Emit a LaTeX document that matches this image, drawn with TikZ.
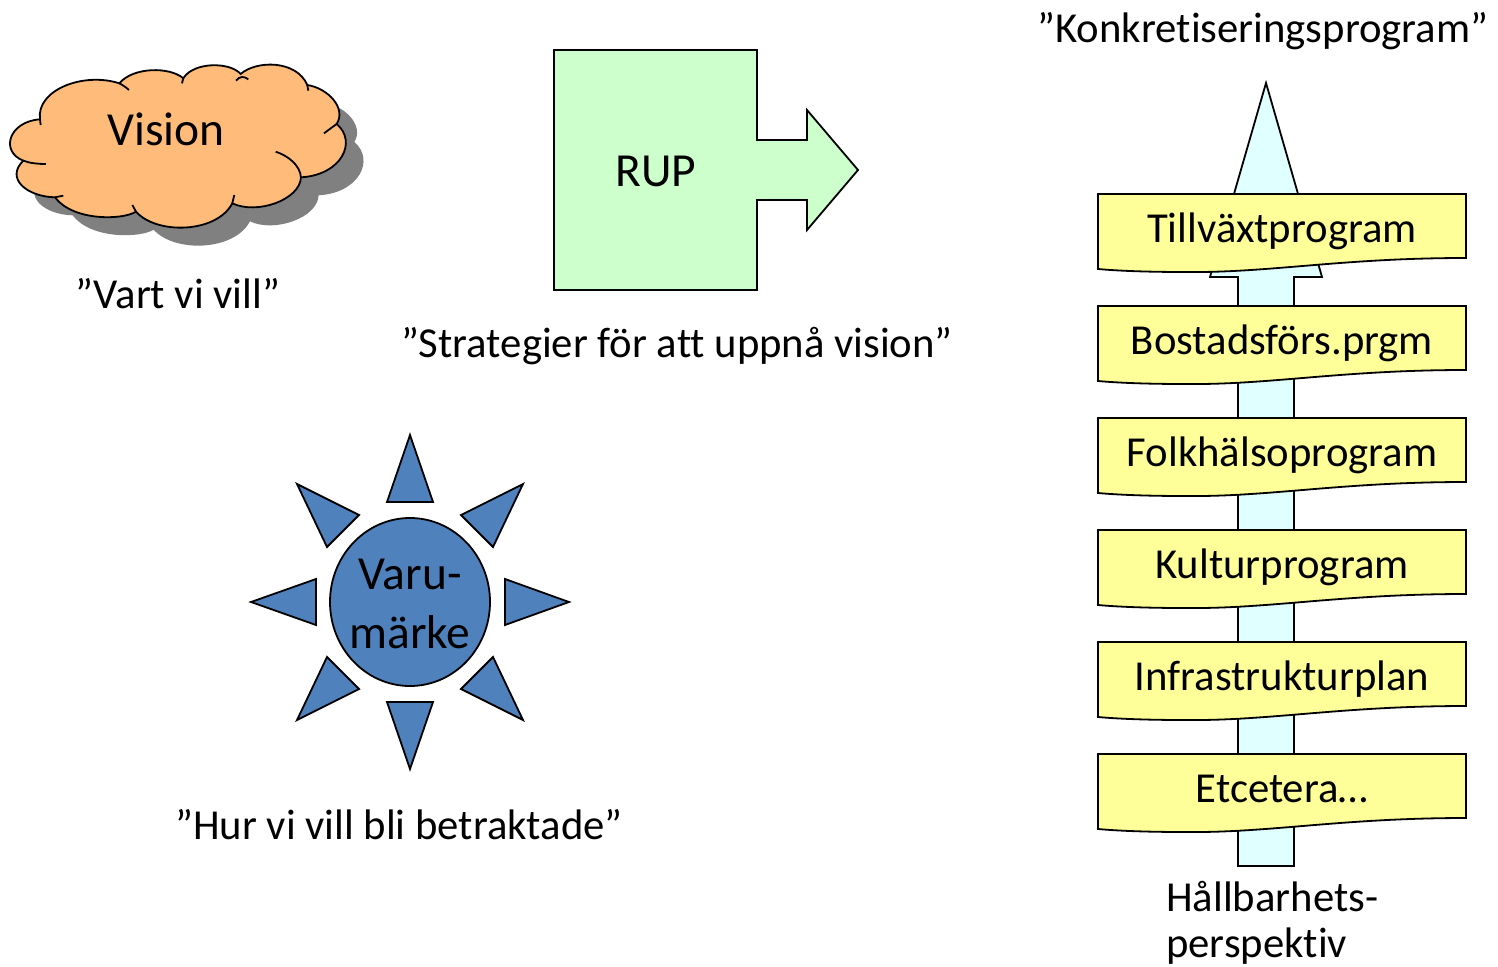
\documentclass[tikz,border=0pt]{standalone}
\usepackage{fontspec}
\setmainfont[Ligatures=NoCommon]{Carlito}
\definecolor{cloudfill}{HTML}{FFBB7A}
\definecolor{cloudshadow}{HTML}{808080}
\definecolor{rupfill}{HTML}{CCFFCC}
\definecolor{sunfill}{HTML}{4F81BD}
\definecolor{arrowfill}{HTML}{E0FFFF}
\definecolor{flagfill}{HTML}{FFFF99}
\tikzset{
  outline/.style={draw=black,line width=1.8pt,line join=miter},
  lbl/.style={inner sep=0pt,anchor=base,font=\fontsize{42.7}{50}\selectfont},
  biglbl/.style={lbl,font=\fontsize{47.5}{56}\selectfont},
  lblleft/.style={lbl,anchor=base west},
  ray/.style={outline,fill=sunfill},
  flagshape/.style={outline,fill=flagfill},
}
\newcommand{\cloudoutline}{(120,208) .. controls (108,120) and (250,65) .. (358,100)
  .. controls (400,50) and (510,50) .. (550,85)
  .. controls (580,35) and (690,35) .. (722,72)
  .. controls (770,30) and (890,30) .. (922,105)
  .. controls (985,115) and (1040,175) .. (1010,222)
  .. controls (1073,275) and (1025,375) .. (903,382)
  .. controls (900,450) and (770,495) .. (697,460)
  .. controls (650,550) and (470,555) .. (408,485)
  .. controls (370,510) and (220,515) .. (165,442)
  .. controls (80,440) and (15,385) .. (70,332)
  .. controls (0,305) and (25,215) .. (120,208) -- cycle}
\newcommand{\flagat}[1]{%
  \draw[flagshape] (1098,#1) -- (1466,#1) -- (1466,#1+64)
    .. controls (1340,#1+64) and (1270,#1+79) .. (1185,#1+78)
    .. controls (1150,#1+78) and (1120,#1+77) .. (1098,#1+75) -- cycle;
}
\begin{document}
\begin{tikzpicture}[x=1pt,y=-1pt]
\useasboundingbox (0,0) rectangle (1498,966);
% cloud
\begin{scope}[shift={(0,50)},x=0.3333pt,y=-0.3333pt]
  \fill[cloudshadow,shift={(53,54)}] \cloudoutline;
  \draw[outline,fill=cloudfill] \cloudoutline;
  \draw[line width=1.8pt]
    (358,100) .. controls (368,105) and (378,112) .. (387,120)
    (550,85) -- (546,100)
    (708,92) .. controls (720,78) and (732,78) .. (745,88)
    (922,105) -- (925,122)
    (1010,222) -- (972,250)
    (903,382) .. controls (900,345) and (865,318) .. (827,305)
    (697,460) -- (703,435)
    (408,485) -- (397,465)
    (165,442) -- (190,437)
    (70,332) .. controls (90,340) and (115,342) .. (138,342)
    (120,208) -- (122,225);
\end{scope}
\node[biglbl] (vision) at (166,145) {Vision};
\node[lbl] (vart) at (178,308) {”Vart vi vill”};
% RUP
\draw[outline,fill=rupfill] (554,50) -- (757,50) -- (757,140) -- (807,140) -- (807,110) -- (858,170) -- (807,230) -- (807,200) -- (757,200) -- (757,290) -- (554,290) -- cycle;
\node[biglbl] (rup) at (656,186) {RUP};
\node[lbl] (strategier) at (677,357) {”Strategier för att uppnå vision”};
% sun
\draw[ray] (410,435) -- (433,502) -- (387,502) -- cycle;
\draw[ray] (410,769) -- (433,702) -- (387,702) -- cycle;
\draw[ray] (251,602) -- (316,579) -- (316,625) -- cycle;
\draw[ray] (569,602) -- (505,579) -- (505,625) -- cycle;
\draw[ray] (523,484) -- (461,515) -- (493,547) -- cycle;
\draw[ray] (297,484) -- (359,515) -- (327,547) -- cycle;
\draw[ray] (523,720) -- (461,689) -- (493,657) -- cycle;
\draw[ray] (297,720) -- (359,689) -- (327,657) -- cycle;
\draw[ray] (410,602) ellipse [x radius=80,y radius=84];
\node[biglbl] (varu) at (410,589) {Varu-};
\node[biglbl] (marke) at (410,648) {märke};
\node[lbl] (hur) at (399,839) {”Hur vi vill bli betraktade”};
% long arrow
\node[lbl] (konk) at (1263,42) {”Konkretiseringsprogram”};
\draw[outline,fill=arrowfill] (1266,83) -- (1322,277) -- (1294,277) -- (1294,866) -- (1238,866) -- (1238,277) -- (1210,277) -- cycle;
% flags
\flagat{194}
\flagat{306}
\flagat{418}
\flagat{530}
\flagat{642}
\flagat{754}
\node[lbl] (t1) at (1282,242) {Tillväxtprogram};
\node[lbl] (t2) at (1282,354) {Bostadsförs.prgm};
\node[lbl] (t3) at (1282,466) {Folkhälsoprogram};
\node[lbl] (t4) at (1282,578) {Kulturprogram};
\node[lbl] (t5) at (1282,690) {Infrastrukturplan};
\node[lbl] (t6) at (1282,802) {Etcetera…};
\node[lblleft] (hall) at (1166,911) {Hållbarhets-};
\node[lblleft] (persp) at (1166,957) {perspektiv};
\end{tikzpicture}
\end{document}
